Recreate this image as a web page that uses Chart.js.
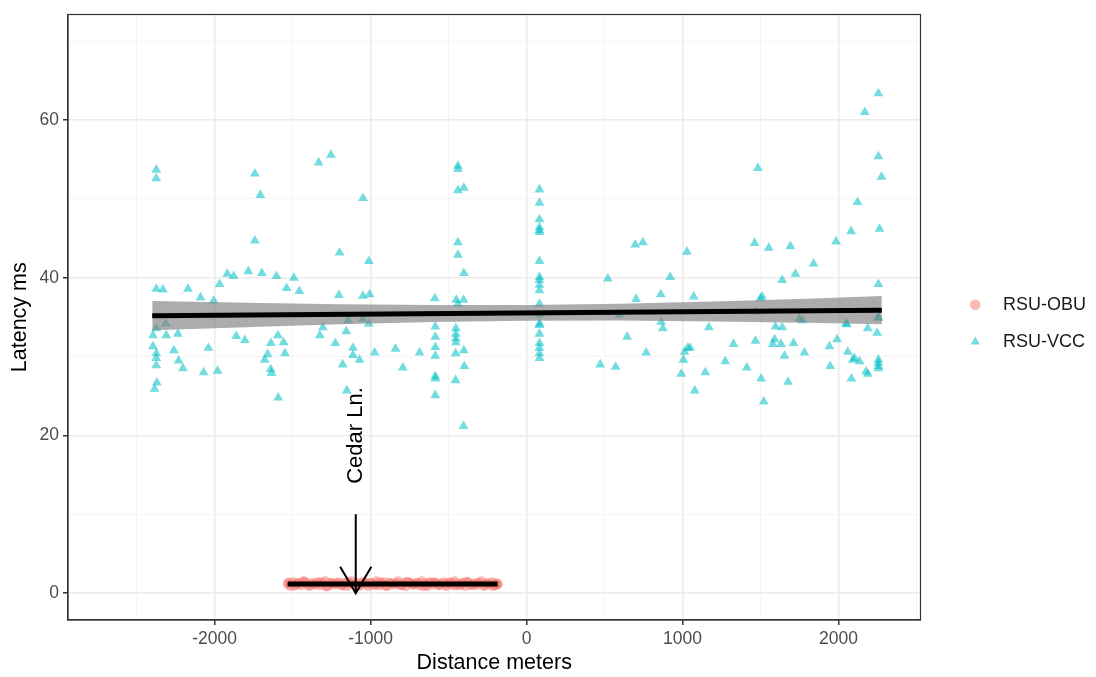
<!DOCTYPE html>
<html>
<head>
<meta charset="utf-8">
<script src="https://cdn.jsdelivr.net/npm/chart.js@4.4.0/dist/chart.umd.min.js"></script>
<style>
html,body{margin:0;padding:0;background:#fff;}
</style>
</head>
<body>
<canvas id="plot" width="1096" height="677"></canvas>
<script>
// RSU-OBU latency readings (dense band near zero)
const obuX=[-1532,-1515,-1498,-1480,-1466,-1447,-1430,-1412,-1396,-1377,
  -1361,-1343,-1325,-1310,-1291,-1274,-1257,-1240,-1222,-1206,
  -1188,-1170,-1153,-1136,-1119,-1101,-1084,-1067,-1050,-1032,
  -1015,-998,-980,-963,-946,-929,-911,-894,-877,-860,
  -842,-825,-808,-790,-773,-756,-739,-721,-704,-687,
  -670,-652,-635,-618,-600,-583,-566,-549,-531,-514,
  -497,-480,-462,-445,-428,-410,-393,-376,-359,-341,
  -324,-307,-290,-272,-255,-238,-220,-203,-188,-185,
  -1524,-1489,-1455,-1421,-1387,-1352,-1318,-1283,-1249,-1214,
  -1180,-1145,-1111,-1076,-1041,-1007,-972,-938,-903,-869,
  -834,-799,-765,-730,-696,-661,-627,-592,-558,-523,
  -489,-454,-420,-385,-350,-316,-281,-247,-212,-194];
const obuY=[1.2,0.9,1.4,1.1,1.3,1.0,1.5,1.2,0.9,1.3,
  1.1,1.4,1.0,1.2,1.5,0.9,1.3,1.1,1.2,1.4,
  1.0,1.3,0.9,1.2,1.5,1.1,1.3,1.0,1.4,1.2,
  0.9,1.3,1.1,1.5,1.0,1.2,1.4,0.9,1.3,1.1,
  1.2,1.5,1.0,1.3,0.9,1.4,1.2,1.1,1.3,1.0,
  1.5,1.2,0.9,1.4,1.1,1.3,1.0,1.2,1.4,0.9,
  1.3,1.1,1.5,1.2,1.0,1.3,0.9,1.4,1.1,1.2,
  1.0,1.3,1.5,0.9,1.2,1.1,1.4,1.0,1.2,1.1,
  1.35,0.95,1.25,1.45,1.05,1.15,1.4,0.85,1.3,1.2,
  1.0,1.45,1.15,0.9,1.35,1.25,1.05,1.4,0.95,1.3,
  1.2,1.0,1.45,1.1,1.3,0.9,1.25,1.4,1.05,1.15,
  1.35,0.95,1.2,1.45,1.0,1.3,1.1,1.25,0.9,1.2];

// RSU-VCC latency readings
const vccX=[-2374,-2374,-1742,-1707,-1333,-1254,-1049,-440,-440,-440,-402,-1742,-1199,-1011,-440,-440,-402,
  -2374,-2331,-2171,-2090,-2006,-1968,-1919,-1878,-1784,-1697,-1603,-1492,-1538,-1457,-1203,-1049,-1006,-588,-451,-404,-440,
  -2374,-2314,-2395,-2310,-2235,-2395,-2374,-2374,-2374,-2261,-2231,-2203,-2370,-2385,-2040,-2071,-1981,-1861,-1806,
  -1639,-1594,-1558,-1549,-1660,-1679,-1641,-1635,-1592,-1306,-1325,-1226,-1156,-1145,-1113,-1113,-1071,-1179,-1152,
  -1049,-1011,-974,-840,-793,-686,-585,-585,-585,-585,-585,-585,-585,-453,-453,-453,-453,-455,-402,-399,-455,-404,
  83,83,83,83,83,83,83,83,83,83,83,83,83,83,83,83,83,83,83,83,
  521,697,746,703,861,921,1028,1072,1483,1462,1553,1692,1511,1500,1639,1724,1840,1985,2081,2122,2169,2256,2256,2276,2263,2256,
  1750,1771,2049,2256,1472,596,
  645,863,874,767,472,571,1169,1034,1013,1049,1006,992,1146,1079,1274,1327,1412,1468,1504,1521,1579,1590,1632,1596,1639,
  1654,1712,1677,1782,1942,1991,1947,2053,2060,2103,2092,2135,2083,2177,2188,2188,2248,2256,2256,2256,2256,2256];
const vccY=[53.7,52.6,53.2,50.5,54.6,55.6,50.1,54.2,53.8,51.1,51.4,44.7,43.2,42.1,44.5,42.9,40.6,
  38.6,38.5,38.6,37.5,37.1,39.2,40.5,40.2,40.8,40.6,40.2,40.0,38.7,38.3,37.8,37.7,37.9,37.4,37.2,37.2,36.7,
  33.6,34.2,32.7,32.7,32.9,31.3,30.4,29.8,28.9,30.8,29.5,28.5,26.7,25.9,31.1,28.0,28.2,32.6,32.1,
  31.7,32.7,31.8,30.4,30.3,29.6,28.4,27.9,24.8,33.7,32.7,31.7,33.2,34.6,31.1,30.2,29.6,29.0,25.7,
  34.8,34.2,30.5,31.0,28.6,30.5,33.8,32.5,31.2,30.1,27.5,27.2,25.1,33.6,32.9,32.3,31.8,30.4,30.8,28.8,27.0,21.2,
  51.2,49.5,47.4,46.4,46.0,45.8,42.1,40.1,39.7,39.1,38.4,36.7,35.3,34.2,32.9,31.7,31.1,30.4,29.8,34.0,
  39.9,44.2,44.5,37.3,37.9,40.1,43.3,37.6,53.9,44.4,43.8,44.0,37.6,37.4,39.7,40.5,41.8,44.6,45.9,49.6,61.0,63.4,55.4,52.8,46.2,39.2,
  34.8,34.6,34.2,34.9,35.7,35.3,
  32.5,34.4,33.6,30.5,29.0,28.7,33.7,31.1,30.6,31.1,29.6,27.8,28.0,25.7,29.4,31.6,28.6,32.0,27.2,24.3,31.6,32.2,31.6,33.8,33.7,
  30.1,31.7,26.8,30.5,31.3,32.2,28.8,34.1,30.6,29.8,29.6,29.4,27.2,28.1,27.8,33.6,33.0,29.6,29.2,28.8,28.5,35.0];

// linear fits and confidence band
const fitX=[-2400,2278];
const fitY=[35.2,35.9];
const obuFitX=[-1532,-185];
const obuFitY=[1.17,1.17];
const bandX=[-2400,-1800,-1200,-600,0,600,1200,1800,2278];
const bandLow=[33.35,33.74,34.1,34.4,34.56,34.58,34.47,34.31,34.1];
const bandHigh=[37.05,36.84,36.66,36.54,36.56,36.72,37.01,37.35,37.7];

// Cedar Ln. arrow
const arrowX=[-1095,-1095];
const arrowY=[10,0];
const headX=[-1195,-1095,-995];
const headY=[3.35,0,3.35];

const xTicks=[-2500,-2000,-1500,-1000,-500,0,500,1000,1500,2000,2500];
const yTicks=[0,10,20,30,40,50,60,70];

const pts=(xs,ys)=>xs.map((x,i)=>({x:x,y:ys[i]}));
const FONT='"Liberation Sans", Arial, sans-serif';

const frame={
  id:'frame',
  afterLayout(chart){
    // nudge legend down a little to sit where ggplot put it
    chart.legend.top+=6;
    chart.legend.bottom+=6;
  },
  afterDatasetsDraw(chart){
    const c=chart.ctx, a=chart.chartArea;
    const xs=chart.scales.x, ys=chart.scales.y;
    c.save();
    c.font='22px '+FONT;
    c.fillStyle='#000';
    c.textAlign='center';
    c.textBaseline='middle';
    c.translate(xs.getPixelForValue(-1095),ys.getPixelForValue(20));
    c.rotate(-Math.PI/2);
    c.fillText('Cedar Ln.',0,0);
    c.restore();
    c.save();
    c.strokeStyle='#333';
    c.lineWidth=1.2;
    c.strokeRect(a.left,a.top,a.right-a.left,a.bottom-a.top);
    c.restore();
  }
};

const major=v=>v%1000===0;
const majorY=v=>v%20===0;

new Chart(document.getElementById('plot'),{
  type:'scatter',
  data:{datasets:[
    {label:'RSU-OBU',data:pts(obuX,obuY),backgroundColor:'rgba(248,118,109,0.5)',borderWidth:0,pointRadius:5,pointStyle:'circle',order:6},
    {label:'RSU-VCC',data:pts(vccX,vccY),backgroundColor:'rgba(0,191,196,0.55)',borderWidth:0,pointRadius:5.7,pointStyle:'triangle',order:5},
    {label:'low',type:'line',data:pts(bandX,bandLow),borderWidth:0,pointRadius:0,fill:false,order:4},
    {label:'high',type:'line',data:pts(bandX,bandHigh),borderWidth:0,pointRadius:0,fill:'-1',backgroundColor:'rgba(128,128,128,0.65)',order:4},
    {label:'fit',type:'line',data:pts(fitX,fitY),borderColor:'#000',borderWidth:5,pointRadius:0,order:2},
    {label:'obufit',type:'line',data:pts(obuFitX,obuFitY),borderColor:'#000',borderWidth:5,pointRadius:0,order:2},
    {label:'arrow',type:'line',data:pts(arrowX,arrowY),borderColor:'#000',borderWidth:2,pointRadius:0,order:0},
    {label:'head',type:'line',data:pts(headX,headY),borderColor:'#000',borderWidth:2,pointRadius:0,order:0}
  ]},
  options:{
    responsive:false,
    animation:false,
    events:[],
    layout:{padding:{top:11,left:0,right:0,bottom:0}},
    scales:{
      x:{
        type:'linear',min:-2940,max:2526,
        afterBuildTicks:s=>{s.ticks=xTicks.map(v=>({value:v}));},
        afterFit:s=>{s.height=57;},
        ticks:{autoSkip:false,maxRotation:0,padding:4,color:'#4D4D4D',font:{family:FONT,size:17.5},
          callback:v=>major(v)?String(v):''},
        grid:{color:c=>major(c.tick.value)?'#EBEBEB':'#F4F4F4',lineWidth:c=>major(c.tick.value)?1.5:0.9,
          tickColor:c=>major(c.tick.value)?'#333':'rgba(0,0,0,0)',tickLength:5},
        border:{color:'#333',width:1.2},
        title:{display:true,text:'Distance meters',color:'#000',font:{family:FONT,size:21.5},padding:{top:0,bottom:1}}
      },
      y:{
        type:'linear',min:-3.4,max:73.4,
        afterBuildTicks:s=>{s.ticks=yTicks.map(v=>({value:v}));},
        afterFit:s=>{s.width=68;},
        ticks:{autoSkip:false,padding:4,color:'#4D4D4D',font:{family:FONT,size:17.5},
          callback:v=>majorY(v)?String(v):''},
        grid:{color:c=>majorY(c.tick.value)?'#EBEBEB':'#F4F4F4',lineWidth:c=>majorY(c.tick.value)?1.5:0.9,
          tickColor:c=>majorY(c.tick.value)?'#333':'rgba(0,0,0,0)',tickLength:5},
        border:{color:'#333',width:1.2},
        title:{display:true,text:'Latency ms',color:'#000',font:{family:FONT,size:21.5},padding:{top:7,bottom:0}}
      },
      gap:{
        type:'linear',position:'right',display:true,
        afterFit:s=>{s.width=32;},
        ticks:{display:false},grid:{display:false},border:{display:false}
      }
    },
    plugins:{
      tooltip:{enabled:false},
      legend:{
        position:'right',fullSize:false,
        labels:{
          usePointStyle:true,boxWidth:7.5,boxHeight:7.5,padding:19,color:'#1A1A1A',
          font:{family:FONT,size:18},
          filter:item=>item.datasetIndex<2,
          sort:(a,b)=>a.datasetIndex-b.datasetIndex,
          generateLabels:chart=>Chart.defaults.plugins.legend.labels.generateLabels(chart).map(l=>Object.assign(l,{text:'   '+l.text}))
        }
      }
    }
  },
  plugins:[frame]
});
</script>
</body>
</html>
